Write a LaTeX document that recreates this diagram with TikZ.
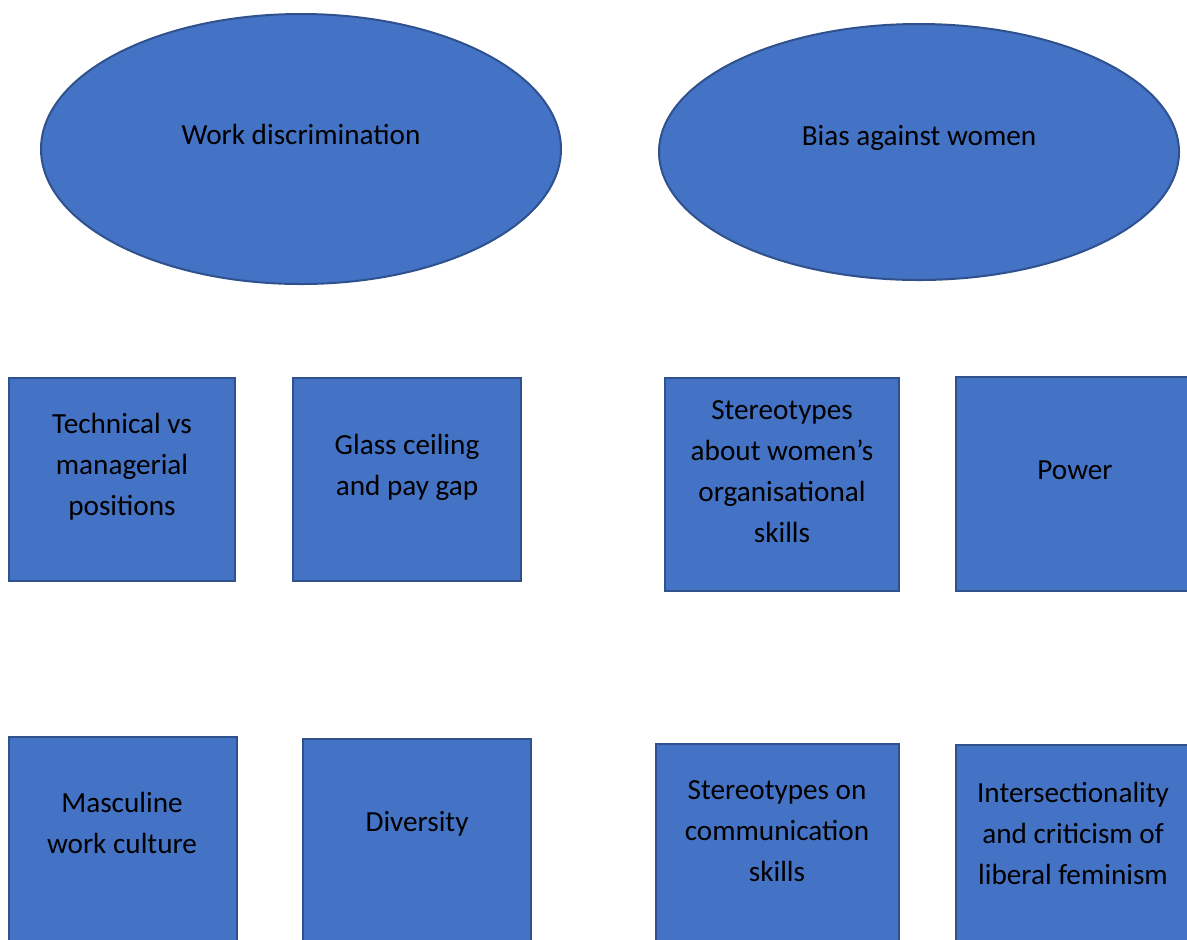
\documentclass[tikz,border=0pt]{standalone}
\usepackage{fontspec}
\setmainfont{Carlito}
\usetikzlibrary{shapes.geometric}
\definecolor{shapeblue}{HTML}{4472C4}
\definecolor{shapeedge}{HTML}{2F528F}

\begin{document}
\begin{tikzpicture}[x=0.5pt,y=-0.5pt,
	topic/.style={ellipse,fill=shapeblue,draw=shapeedge,line width=1pt,inner sep=0pt},
	theme/.style={rectangle,fill=shapeblue,draw=shapeedge,line width=1pt,inner sep=0pt},
	caption/.style={align=center,inner sep=0pt,font=\fontsize{14.6}{20.5}\selectfont}]
	\useasboundingbox (0,0) rectangle (1187,939);
	\clip (0,0) rectangle (1187,939);
	% the two headings
	\node[topic,minimum width=260pt,minimum height=135pt] (work) at (301,149) {};
	\node[topic,minimum width=260pt,minimum height=128pt] (bias) at (919,152) {};
	\node[caption] (workT) at (301,134) {Work discrimination};
	\node[caption] (biasT) at (919,138) {Bias against women};
	% first row
	\node[theme,minimum width=113pt,minimum height=101.5pt] (tech) at (122,479.5) {};
	\node[theme,minimum width=114pt,minimum height=101.5pt] (glass) at (407,479.5) {};
	\node[theme,minimum width=117pt,minimum height=106.5pt] (orgskill) at (782,484.5) {};
	\node[theme,minimum width=130pt,minimum height=107pt] (power) at (1086,484) {};
	\node[caption] (techT) at (122,467) {Technical vs\\managerial\\positions};
	\node[caption] (glassT) at (407,467) {Glass ceiling\\and pay gap};
	\node[caption] (orgskillT) at (782,472) {Stereotypes\\about women’s\\organisational\\skills};
	\node[caption] (powerT) at (1075,470) {Power};
	% second row, cut at the bottom
	\node[theme,minimum width=114pt,minimum height=111.5pt] (culture) at (123,848.5) {};
	\node[theme,minimum width=114pt,minimum height=110.5pt] (divers) at (417,849.5) {};
	\node[theme,minimum width=121.5pt,minimum height=108pt] (commskill) at (777.5,852) {};
	\node[theme,minimum width=130pt,minimum height=107.5pt] (intersect) at (1086,852.5) {};
	\node[caption] (cultureT) at (122,823) {Masculine\\work culture};
	\node[caption] (diversT) at (417,824) {Diversity};
	\node[caption] (commskillT) at (777,831) {Stereotypes on\\communication\\skills};
	\node[caption] (intersectT) at (1073,833) {Intersectionality\\and criticism of\\liberal feminism};
\end{tikzpicture}
\end{document}
